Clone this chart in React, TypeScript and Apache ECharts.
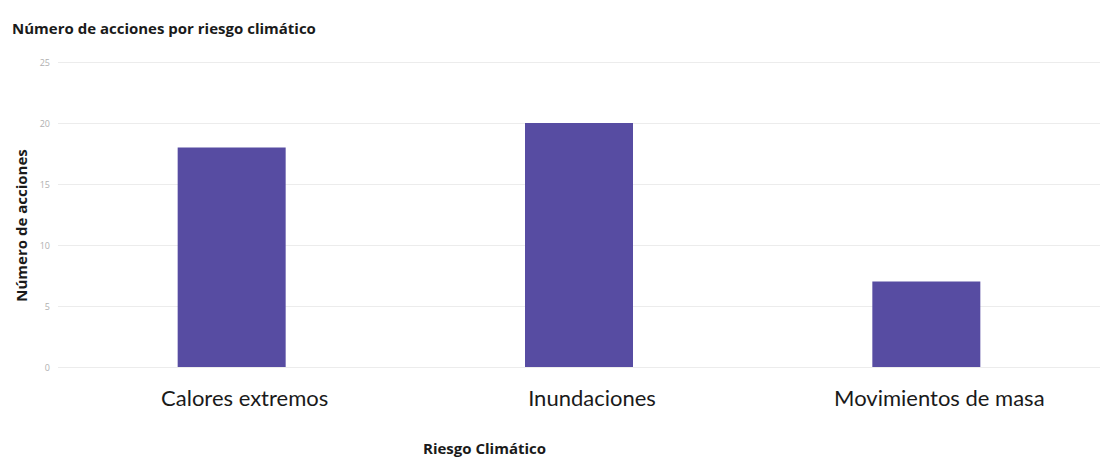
import React, { useEffect, useRef } from "react";
import * as echarts from "echarts";

const categories = ["Calores extremos", "Inundaciones", "Movimientos de masa"];
const values = [18, 20, 7];
const yTicks = [0, 5, 10, 15, 20, 25];

export default function App() {
  const ref = useRef<HTMLDivElement>(null);
  useEffect(() => {
    document.body.style.margin = "0";
    const chart = echarts.init(ref.current!, null, { renderer: "svg" });
    chart.setOption({
      animation: false,
      title: {
        text: "Número de acciones por riesgo climático",
        left: 7,
        top: 15,
        textStyle: { fontFamily: "Open Sans", fontWeight: "bold", fontSize: 15, color: "#1a1a1a" },
      },
      grid: { left: 58, right: 0, top: 62, bottom: 90, containLabel: false },
      xAxis: {
        type: "category",
        data: categories,
        axisLine: { show: false },
        axisTick: { show: false },
        axisLabel: { fontFamily: "Lato", fontSize: 22, color: "#1a1a1a", margin: 19, padding: [0, 0, 0, 26] },
      },
      yAxis: {
        type: "value",
        min: yTicks[0],
        max: yTicks[yTicks.length - 1],
        interval: 5,
        name: "Número de acciones",
        nameLocation: "middle",
        nameGap: 29,
        nameTextStyle: { fontFamily: "Open Sans", fontWeight: "bold", fontSize: 15, color: "#1a1a1a", padding: [0, 22, 0, 0] },
        axisLabel: { fontFamily: "Open Sans", fontSize: 9, color: "#b0b0b0", margin: 8 },
        splitLine: { lineStyle: { color: "#ececec", width: 1 } },
      },
      graphic: [
        {
          type: "text",
          left: 423,
          top: 440,
          style: {
            text: "Riesgo Climático",
            fontFamily: "Open Sans",
            fontWeight: "bold",
            fontSize: 15,
            fill: "#1a1a1a",
          },
        },
      ],
      series: [
        {
          type: "bar",
          data: values,
          barWidth: 108,
          itemStyle: { color: "#574ca2" },
        },
      ],
    });
    return () => chart.dispose();
  }, []);
  return <div ref={ref} style={{ width: 1100, height: 457 }} />;
}
